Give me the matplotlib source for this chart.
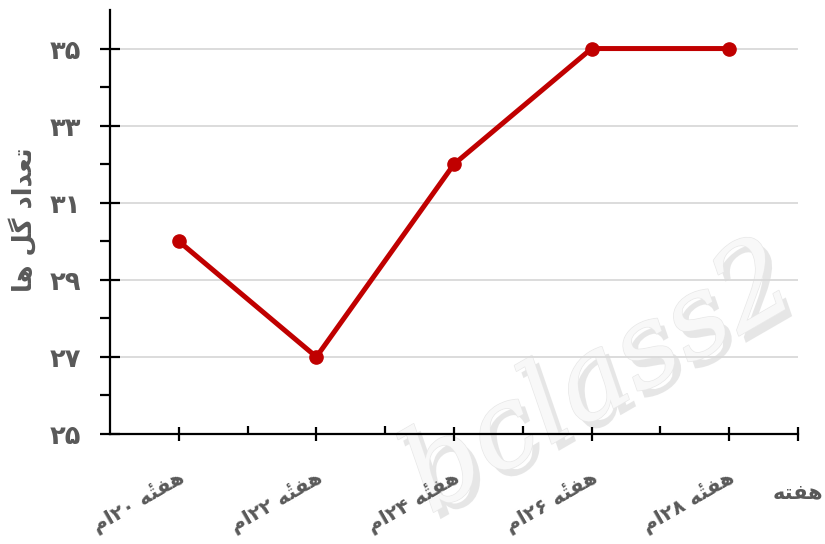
import matplotlib
matplotlib.use('Agg')
import matplotlib.pyplot as plt
import matplotlib.transforms as mtransforms
import matplotlib.patheffects as pe
from matplotlib.ticker import FixedLocator

# ---------------------------------------------------------------
# data
# ---------------------------------------------------------------
weeks = ['هفتهٔ ۲۰ام', 'هفتهٔ ۲۲ام', 'هفتهٔ ۲۴ام', 'هفتهٔ ۲۶ام', 'هفتهٔ ۲۸ام']
flowers = [30, 27, 32, 35, 35]
y_ticks = [25, 27, 29, 31, 33, 35]
y_minor = [26, 28, 30, 32, 34]
y_tick_labels = ['۲۵', '۲۷', '۲۹', '۳۱', '۳۳', '۳۵']
x_title = 'هفته'
y_title = 'تعداد گل ها'
watermark = 'bclass2'

LINE_COLOR = '#C00000'
TEXT_COLOR = '#595959'

# ---------------------------------------------------------------
# matplotlib has no arabic shaping -> pick presentation forms by hand
# ---------------------------------------------------------------
FORMS = {   # isolated, final, initial, medial
    'ه': ('\ufee9', '\ufeea', '\ufeeb', '\ufeec'),
    'ف': ('\ufed1', '\ufed2', '\ufed3', '\ufed4'),
    'ت': ('\ufe95', '\ufe96', '\ufe97', '\ufe98'),
    'م': ('\ufee1', '\ufee2', '\ufee3', '\ufee4'),
    'ع': ('\ufec9', '\ufeca', '\ufecb', '\ufecc'),
    'ل': ('\ufedd', '\ufede', '\ufedf', '\ufee0'),
    'گ': ('\ufb92', '\ufb93', '\ufb94', '\ufb95'),
    'ا': ('\ufe8d', '\ufe8e', None, None),
    'د': ('\ufea9', '\ufeaa', None, None),
}
MARKS = {'\u0654'}


def shape(s):
    base = [i for i, c in enumerate(s) if c not in MARKS]
    out = list(s)
    for k, i in enumerate(base):
        c = s[i]
        if c not in FORMS:
            continue
        prev = s[base[k - 1]] if k > 0 else ''
        nxt = s[base[k + 1]] if k + 1 < len(base) else ''
        jp = prev in FORMS and FORMS[prev][2] is not None
        jn = nxt in FORMS and FORMS[c][2] is not None
        form = 3 if (jp and jn) else 2 if jn else 1 if jp else 0
        out[i] = FORMS[c][form]
    tokens = []
    for i, c in enumerate(s):
        if c in MARKS and tokens:
            tokens[-1] += out[i]
        elif c.isdigit() and tokens and tokens[-1].isdigit():
            tokens[-1] += c
        else:
            tokens.append(out[i])
    return ''.join(reversed(tokens))


plt.rcParams['font.family'] = ['DejaVu Sans']

W, H = 825, 544
fig = plt.figure(figsize=(W / 100, H / 100), dpi=100)
ax = fig.add_axes([110 / W, 1 - 434 / H, (798 - 110) / W, (434 - 10) / H])
ax.patch.set_visible(False)

x = [i + 0.5 for i in range(len(weeks))]
ax.plot(x, flowers, '-o', color=LINE_COLOR, linewidth=3.6, markersize=9.5,
        zorder=3, clip_on=False)

ax.set_xlim(0, len(weeks))
ax.set_ylim(25, 36)

# grid
for y in y_ticks[1:]:
    ax.axhline(y, color='#d9d9d9', linewidth=1.3, zorder=1)

for s in ['top', 'right']:
    ax.spines[s].set_visible(False)
for s in ['left', 'bottom']:
    ax.spines[s].set_linewidth(1.6)
    ax.spines[s].set_color('black')

ax.yaxis.set_major_locator(FixedLocator(y_ticks))
ax.yaxis.set_minor_locator(FixedLocator(y_minor))
ax.set_yticklabels([shape(t) for t in y_tick_labels], fontsize=18.5,
                   fontweight='bold', color=TEXT_COLOR)
ax.tick_params(axis='y', which='major', direction='inout', length=14,
               width=1.6, pad=14)
ax.tick_params(axis='y', which='minor', direction='out', length=7, width=1.6)

ax.xaxis.set_major_locator(FixedLocator(x + [len(weeks)]))
ax.xaxis.set_minor_locator(FixedLocator([1, 2, 3, 4]))
ax.set_xticklabels([])
ax.tick_params(axis='x', which='major', direction='inout', length=9.5, width=1.6)
ax.tick_params(axis='x', which='minor', direction='in', length=6, width=1.6)

# rotated week labels
offset = mtransforms.ScaledTranslation(0.04, -0.42, fig.dpi_scale_trans)
trans = mtransforms.blended_transform_factory(ax.transData, ax.transAxes) + offset
for xi, lab in zip(x, weeks):
    ax.text(xi, 0, shape(lab), transform=trans, rotation=30,
            rotation_mode='anchor', ha='right', va='center', fontsize=14.5,
            fontweight='bold', color=TEXT_COLOR)

fig.text(823 / W, 1 - 492 / H, shape(x_title), ha='right', va='center',
         fontsize=15, fontweight='bold', color=TEXT_COLOR)
fig.text(24 / W, 1 - 220 / H, shape(y_title), rotation=90, ha='center',
         va='center', fontsize=18.5, fontweight='bold', color=TEXT_COLOR)

# watermark
fig.text(600 / W, 1 - 380 / H, watermark, rotation=30, ha='center',
         va='center', fontsize=82, style='italic', family='DejaVu Serif',
         color='#f8f8f8', zorder=-1,
         path_effects=[pe.SimplePatchShadow(offset=(5, -5),
                                            shadow_rgbFace='#cfcfcf', alpha=0.5),
                       pe.Stroke(linewidth=1, foreground='#e8e8e8'),
                       pe.Normal()])

fig.savefig('out.png', dpi=100)
